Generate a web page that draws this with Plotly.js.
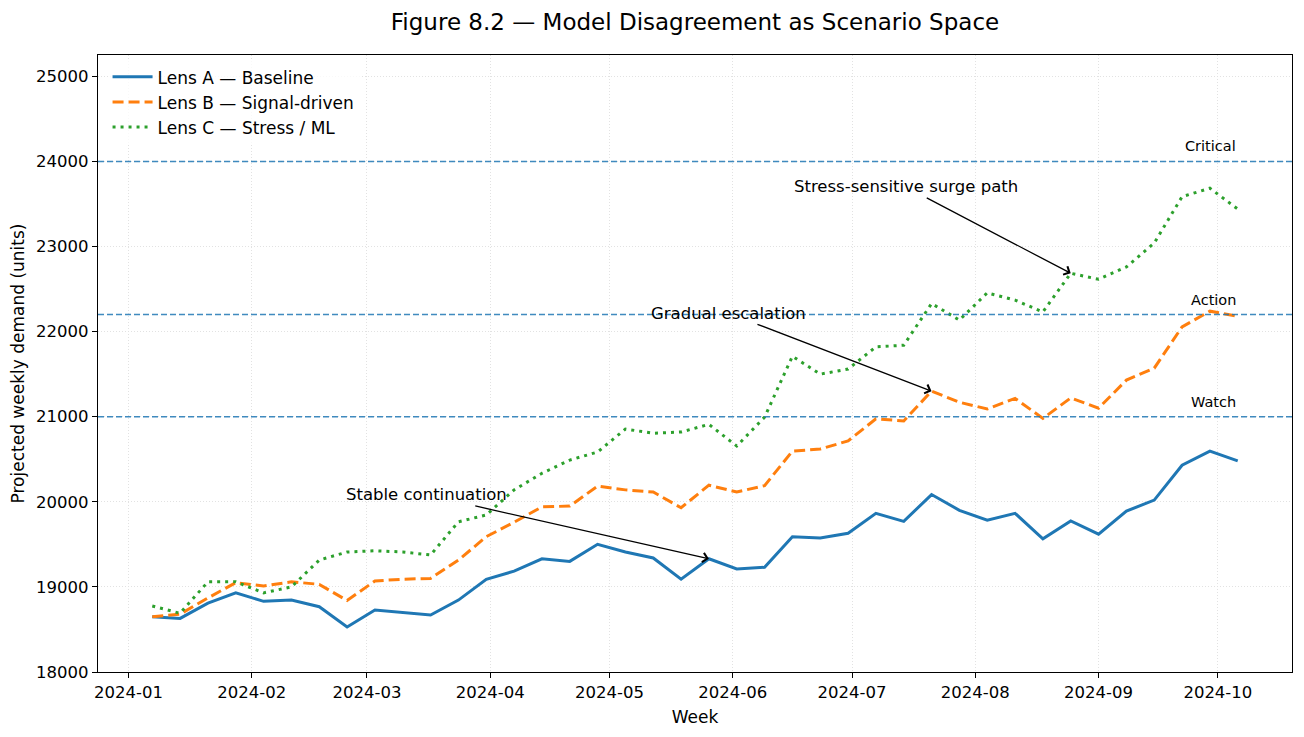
<!DOCTYPE html>
<html>
<head>
<meta charset="utf-8">
<script src="https://cdn.plot.ly/plotly-3.0.1.min.js"></script>
<style>
  html, body { margin: 0; padding: 0; background: #ffffff; }
  #chart { width: 1304px; height: 737px; }
</style>
</head>
<body>
<div id="chart"></div>
<script>
// Week-ending dates of the projection horizon
const weeks = [
  "2024-01-07", "2024-01-14", "2024-01-21", "2024-01-28",
  "2024-02-04", "2024-02-11", "2024-02-18", "2024-02-25",
  "2024-03-03", "2024-03-10", "2024-03-17", "2024-03-24", "2024-03-31",
  "2024-04-07", "2024-04-14", "2024-04-21", "2024-04-28",
  "2024-05-05", "2024-05-12", "2024-05-19", "2024-05-26",
  "2024-06-02", "2024-06-09", "2024-06-16", "2024-06-23", "2024-06-30",
  "2024-07-07", "2024-07-14", "2024-07-21", "2024-07-28",
  "2024-08-04", "2024-08-11", "2024-08-18", "2024-08-25",
  "2024-09-01", "2024-09-08", "2024-09-15", "2024-09-22", "2024-09-29",
  "2024-10-06"
];

// Projected weekly demand (units) under each lens
const lensA = [
  18650, 18630, 18810, 18930, 18830, 18845, 18767, 18528, 18728, 18700,
  18670, 18845, 19090, 19185, 19330, 19300, 19500, 19410, 19340, 19090,
  19330, 19210, 19230, 19590, 19575, 19630, 19865, 19770, 20085, 19900,
  19785, 19865, 19565, 19775, 19620, 19890, 20020, 20430, 20595, 20480
];
const lensB = [
  18650, 18680, 18870, 19050, 19010, 19060, 19030, 18840, 19070, 19090,
  19100, 19315, 19590, 19760, 19940, 19950, 20185, 20140, 20115, 19930,
  20195, 20115, 20190, 20595, 20620, 20715, 20975, 20950, 21300, 21170,
  21090, 21215, 20980, 21220, 21100, 21430, 21570, 22055, 22240, 22180
];
const lensC = [
  18775, 18690, 19060, 19060, 18930, 19000, 19315, 19410, 19425, 19410,
  19375, 19765, 19845, 20140, 20335, 20490, 20585, 20855, 20805, 20820,
  20910, 20655, 20995, 21710, 21500, 21560, 21820, 21840, 22330, 22135,
  22455, 22370, 22230, 22685, 22615, 22760, 23040, 23585, 23685, 23440
];

// Alert thresholds
const thresholdNames = ["Watch", "Action", "Critical"];
const thresholdValues = [21000, 22200, 24000];

const FONT = "DejaVu Sans, Liberation Sans, sans-serif";
const BLUE = "#1f77b4", ORANGE = "#ff7f0e", GREEN = "#2ca02c";
const REF = "rgba(31,119,180,0.85)";

const traces = [
  { x: weeks, y: lensA, name: "Lens A — Baseline", type: "scatter", mode: "lines",
    line: { color: BLUE, width: 3 } },
  { x: weeks, y: lensB, name: "Lens B — Signal-driven", type: "scatter", mode: "lines",
    line: { color: ORANGE, width: 3, dash: "11px,5px" } },
  { x: weeks, y: lensC, name: "Lens C — Stress / ML", type: "scatter", mode: "lines",
    line: { color: GREEN, width: 3, dash: "3px,5px" } }
];

const lastWeek = weeks[weeks.length - 1];

const shapes = thresholdValues.map(v => ({
  type: "line", xref: "paper", x0: 0, x1: 1, yref: "y", y0: v, y1: v,
  line: { color: REF, width: 1.5, dash: "6px,3px" }, layer: "above"
}));

const annotations = thresholdNames.map((name, i) => ({
  xref: "x", yref: "y", x: lastWeek, y: thresholdValues[i],
  xanchor: "right", yanchor: "bottom", yshift: 5,
  text: name, showarrow: false,
  font: { family: FONT, size: 14.5, color: "#000" }
}));

// Scenario callouts pointing at the series they describe
const callouts = [
  { text: "Stable continuation", tx: "2024-03-16", ty: 20080, x: weeks[20], y: lensA[20] },
  { text: "Gradual escalation", tx: "2024-05-31", ty: 22215, x: weeks[28], y: lensB[28] },
  { text: "Stress-sensitive surge path", tx: "2024-07-14 12:00", ty: 23700, x: weeks[33], y: lensC[33] }
];
callouts.forEach(c => annotations.push({
  xref: "x", yref: "y", axref: "x", ayref: "y",
  x: c.x, y: c.y, ax: c.tx, ay: c.ty,
  text: c.text, showarrow: true,
  arrowhead: 4, arrowsize: 1.4, arrowwidth: 1.3, arrowcolor: "#000",
  standoff: 0, startstandoff: 0,
  font: { family: FONT, size: 16.5, color: "#000" }
}));

const axisCommon = {
  showline: true, linecolor: "#000", linewidth: 1.2, mirror: true,
  ticks: "outside", ticklen: 5, tickwidth: 1.2, tickcolor: "#000",
  showgrid: true, gridcolor: "#e2e2e2", gridwidth: 1, griddash: "1px,2px",
  zeroline: false,
  tickfont: { family: FONT, size: 16.5, color: "#000" }
};

const layout = {
  width: 1304, height: 737,
  margin: { l: 98, r: 12, t: 55, b: 65 },
  paper_bgcolor: "#fff", plot_bgcolor: "#fff",
  font: { family: FONT, color: "#000" },
  title: {
    text: "Figure 8.2 — Model Disagreement as Scenario Space",
    font: { family: FONT, size: 23, color: "#000" },
    xref: "paper", x: 0.5, xanchor: "center", yref: "container", y: 0.970, yanchor: "middle"
  },
  xaxis: Object.assign({}, axisCommon, {
    type: "date",
    range: ["2023-12-24 08:24", "2024-10-19 15:36"],
    tick0: "2024-01-01", dtick: "M1", tickformat: "%Y-%m",
    title: { text: "Week", font: { family: FONT, size: 17, color: "#000" }, standoff: 10 }
  }),
  yaxis: Object.assign({}, axisCommon, {
    range: [18000, 25250],
    tick0: 18000, dtick: 1000, tickformat: "d",
    title: { text: "Projected weekly demand (units)", font: { family: FONT, size: 17, color: "#000" }, standoff: 7 }
  }),
  legend: {
    x: 0.008, y: 0.993, xanchor: "left", yanchor: "top",
    bgcolor: "rgba(255,255,255,0.8)", borderwidth: 0,
    font: { family: FONT, size: 17, color: "#000" },
    itemwidth: 40
  },
  shapes: shapes,
  annotations: annotations,
  showlegend: true
};

Plotly.newPlot("chart", traces, layout, { displayModeBar: false, responsive: false });
</script>
</body>
</html>
